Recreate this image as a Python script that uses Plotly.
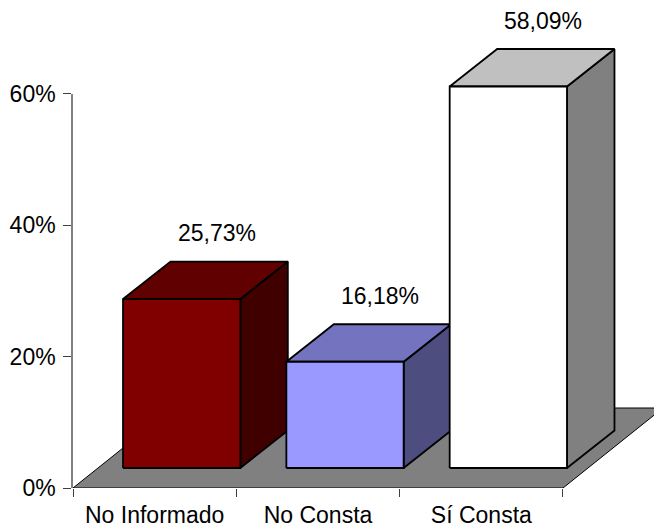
import plotly.graph_objects as go

# Chart data
categories = ["No Informado", "No Consta", "Sí Consta"]
values = [25.73, 16.18, 58.09]
y_ticks = [0, 20, 40, 60]
y_tick_labels = ["0%", "20%", "40%", "60%"]

# Face colours per bar: front, top, side
front_colors = ["#800000", "#9999FF", "#FFFFFF"]
top_colors = ["#600000", "#7373BF", "#C0C0C0"]
side_colors = ["#400000", "#4D4D80", "#808080"]

# Geometry of the pseudo-3D projection, in screen pixels
W, H = 654, 529
LEFT, BOTTOM = 73, 41
PX_PER_CAT = 163.33
PX_PER_PCT = 6.567
FRONT_PX = (27, 20)        # bar front plane offset from axis plane
BAR_DEPTH_PX = (47.5, 37.5)
FLOOR_DEPTH_PX = (100, 80)
BAR_WIDTH_PX = 117.3
FONT = dict(family="Liberation Sans, Arial", size=23, color="#000000")


def to_dx(px):
    return px / PX_PER_CAT


def to_dy(px):
    return px / PX_PER_PCT


fx, fy = to_dx(FRONT_PX[0]), to_dy(FRONT_PX[1])
bdx, bdy = to_dx(BAR_DEPTH_PX[0]), to_dy(BAR_DEPTH_PX[1])
fdx, fdy = to_dx(FLOOR_DEPTH_PX[0]), to_dy(FLOOR_DEPTH_PX[1])
hw = to_dx(BAR_WIDTH_PX) / 2

n = len(categories)
x_min, x_max = -0.5, -0.5 + (W - LEFT) / PX_PER_CAT
y_min, y_max = 0, (H - BOTTOM) / PX_PER_PCT

fig = go.Figure()


def poly(xs, ys, fill, line_w=1.8):
    fig.add_trace(go.Scatter(
        x=xs + [xs[0]], y=ys + [ys[0]], mode="lines", fill="toself",
        fillcolor=fill, line=dict(color="#000000", width=line_w),
        hoverinfo="skip", showlegend=False,
    ))


# Floor
poly([-0.5, n - 0.5, n - 0.5 + fdx, -0.5 + fdx],
     [0, 0, fdy, fdy], "#808080", line_w=1)

# Bars: side, top, then front face
for i, v in enumerate(values):
    xl, xr = i + fx - hw, i + fx + hw
    yb, yt = fy, fy + v
    poly([xr, xr + bdx, xr + bdx, xr], [yb, yb + bdy, yt + bdy, yt], side_colors[i])
    poly([xl, xr, xr + bdx, xl + bdx], [yt, yt, yt + bdy, yt + bdy], top_colors[i])
    poly([xl, xr, xr, xl], [yb, yb, yt, yt], front_colors[i])

# Value labels above each bar
for i, v in enumerate(values):
    fig.add_annotation(
        x=i + fx, y=fy + v, xref="x", yref="y",
        text=f"{v:.2f}%".replace(".", ","), showarrow=False,
        xshift=35, yshift=66, xanchor="center", yanchor="middle",
        font=FONT,
    )

# Visible value axis spans 0..60% only; it shares the same scale as the drawing axis
fig.add_trace(go.Scatter(x=[x_min], y=[0], yaxis="y2", mode="markers",
                         marker=dict(opacity=0), hoverinfo="skip",
                         showlegend=False))

fig.update_layout(
    width=W, height=H,
    margin=dict(l=LEFT, r=0, t=0, b=BOTTOM, pad=0, autoexpand=False),
    paper_bgcolor="#FFFFFF", plot_bgcolor="rgba(0,0,0,0)",
    font=FONT,
    xaxis=dict(
        range=[x_min, x_max], showgrid=False, zeroline=False, showline=False,
        automargin=False,
        tickvals=list(range(n)), ticktext=categories, ticks="",
        ticklabelstandoff=11,
        minor=dict(tickvals=[k - 0.5 for k in range(n + 1)], ticks="outside",
                   ticklen=8, tickcolor="#404040", tickwidth=1.2),
    ),
    yaxis=dict(range=[y_min, y_max], visible=False, automargin=False),
    yaxis2=dict(
        domain=[0, y_ticks[-1] / y_max], range=[y_ticks[0], y_ticks[-1]],
        anchor="x", showgrid=False, zeroline=False, automargin=False,
        showline=True, linecolor="#808080", linewidth=1.5,
        tickvals=y_ticks, ticktext=y_tick_labels, ticks="outside",
        ticklen=8, tickcolor="#404040", tickwidth=1.2, ticklabelstandoff=3,
    ),
)

fig.write_html("out.html")
